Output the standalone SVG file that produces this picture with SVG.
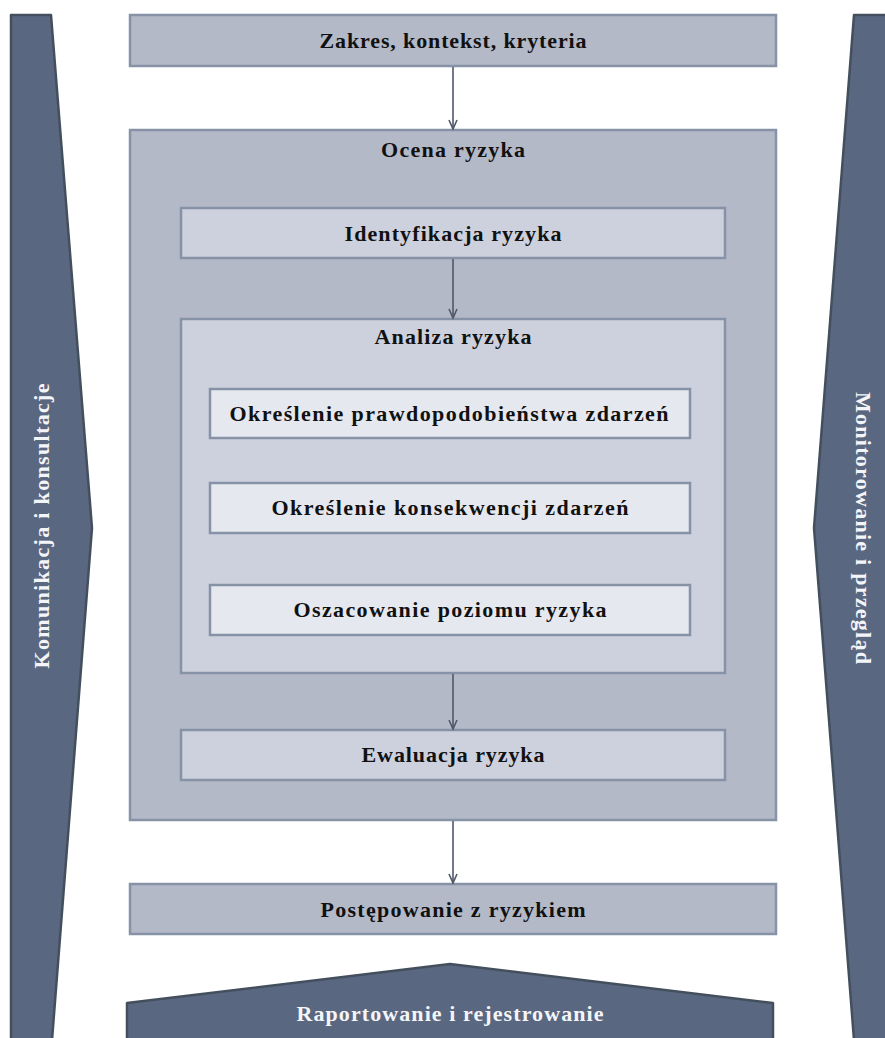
<svg xmlns="http://www.w3.org/2000/svg" width="885" height="1038" viewBox="0 0 885 1038">
<defs>
<style>
.band{fill:#5a6780;stroke:#444f5e;stroke-width:2.5;stroke-linejoin:round}
.outer{fill:#b4b9c8;stroke:#8693a7;stroke-width:2.5}
.mid{fill:#cdd1de;stroke:#8693a7;stroke-width:2.5}
.inner{fill:#e6e8ef;stroke:#8693a7;stroke-width:2.5}
.t{font-family:"Liberation Serif","Times New Roman",serif;font-weight:bold;font-size:22px;fill:#111;text-anchor:middle}
.w{fill:#f4f5f8}
.arr{stroke:#505868;stroke-width:1.6;fill:none}
</style>
<marker id="ah" viewBox="0 0 12 10" refX="10" refY="5" markerWidth="12" markerHeight="10" markerUnits="userSpaceOnUse" orient="auto">
<path d="M1,1 L10,5 L1,9" fill="none" stroke="#505868" stroke-width="1.6"/>
</marker>
</defs>
<rect width="885" height="1038" fill="#ffffff"/>
<g id="band-left">
<polygon class="band" points="11,15 51,15 92,528 52,1040 11,1040"/>
<text class="t w" transform="translate(49,526) rotate(-90)" textLength="285">Komunikacja i konsultacje</text>
</g>
<g id="band-right">
<polygon class="band" points="854,15 895,15 895,1040 854,1040 814,528"/>
<text class="t w" transform="translate(856,528) rotate(90)" textLength="272">Monitorowanie i przegląd</text>
</g>
<g id="band-bottom">
<polygon class="band" points="127,1003 450,964 773,1003 773,1040 127,1040"/>
<text class="t w" x="450" y="1021" textLength="307">Raportowanie i rejestrowanie</text>
</g>
<g id="zakres">
<rect class="outer" x="130" y="15" width="646" height="51"/>
<text class="t" x="453" y="48" textLength="267">Zakres, kontekst, kryteria</text>
</g>
<g id="ocena">
<rect class="outer" x="130" y="130" width="646" height="690"/>
<text class="t" x="453" y="157" textLength="144">Ocena ryzyka</text>
</g>
<g id="identyfikacja">
<rect class="mid" x="181" y="208" width="544" height="50"/>
<text class="t" x="453" y="241" textLength="217">Identyfikacja ryzyka</text>
</g>
<g id="analiza">
<rect class="mid" x="181" y="319" width="544" height="354"/>
<text class="t" x="453" y="344" textLength="157">Analiza ryzyka</text>
</g>
<g id="prawdopodobienstwo">
<rect class="inner" x="210" y="389" width="480" height="49"/>
<text class="t" x="449" y="421" textLength="439">Określenie prawdopodobieństwa zdarzeń</text>
</g>
<g id="konsekwencje">
<rect class="inner" x="210" y="483" width="480" height="50"/>
<text class="t" x="450" y="515" textLength="357">Określenie konsekwencji zdarzeń</text>
</g>
<g id="oszacowanie">
<rect class="inner" x="210" y="585" width="480" height="50"/>
<text class="t" x="450" y="617" textLength="313">Oszacowanie poziomu ryzyka</text>
</g>
<g id="ewaluacja">
<rect class="mid" x="181" y="730" width="544" height="50"/>
<text class="t" x="453" y="762" textLength="183">Ewaluacja ryzyka</text>
</g>
<g id="postepowanie">
<rect class="outer" x="130" y="884" width="646" height="50"/>
<text class="t" x="453" y="917" textLength="265">Postępowanie z ryzykiem</text>
</g>
<g id="connectors">
<line class="arr" x1="453" y1="67" x2="453" y2="129" marker-end="url(#ah)"/>
<line class="arr" x1="453" y1="259" x2="453" y2="318" marker-end="url(#ah)"/>
<line class="arr" x1="453" y1="674" x2="453" y2="729" marker-end="url(#ah)"/>
<line class="arr" x1="453" y1="821" x2="453" y2="883" marker-end="url(#ah)"/>
</g>
</svg>
